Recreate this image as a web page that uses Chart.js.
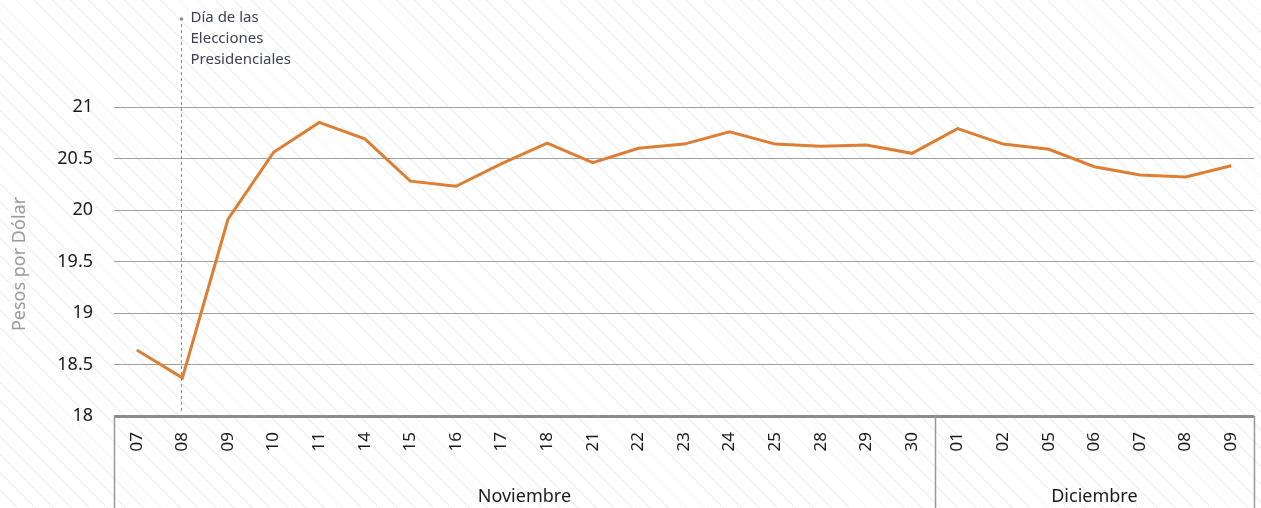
<!DOCTYPE html>
<html lang="es">
<head>
<meta charset="utf-8">
<title>Pesos por Dólar</title>
<script src="https://cdn.jsdelivr.net/npm/chart.js@4.4.1/dist/chart.umd.min.js"></script>
<style>
  html, body {
    margin: 0;
    padding: 0;
  }
  body {
    width: 1261px;
    height: 508px;
    overflow: hidden;
    background-color: #ffffff;
    background-image: repeating-linear-gradient(45deg, #ffffff 0px, #ffffff 11.5px, #f1f1f1 11.5px, #f1f1f1 12.8px);
  }
  canvas { display: block; }
</style>
</head>
<body>
<canvas id="tipoCambio" width="1261" height="508"></canvas>
<script>
// Datos
const dias = ['07', '08', '09', '10', '11', '14', '15', '16', '17', '18', '21', '22', '23', '24', '25', '28', '29', '30',
              '01', '02', '05', '06', '07', '08', '09'];
const pesosPorDolar = [18.64, 18.37, 19.91, 20.56, 20.85, 20.69, 20.28, 20.23, 20.45, 20.65, 20.46, 20.60, 20.64, 20.76,
                       20.64, 20.62, 20.63, 20.55, 20.79, 20.64, 20.59, 20.42, 20.34, 20.32, 20.43];
const meses = ['Noviembre', 'Diciembre'];
const diasPorMes = [18, 7];
const eventoIndice = 1;
const eventoTexto = ['Día de las', 'Elecciones', 'Presidenciales'];

const fuente = '"Noto Sans", "Open Sans", sans-serif';

// Anotación, separadores de meses y título del eje
const extras = {
  id: 'extras',
  beforeDatasetsDraw(chart) {
    const { ctx, chartArea, scales } = chart;
    const x = scales.x;
    const ex = Math.round(x.getPixelForValue(eventoIndice)) - 0.5;
    ctx.save();
    ctx.strokeStyle = '#8a8a8a';
    ctx.lineWidth = 1;
    ctx.setLineDash([3, 3]);
    ctx.beginPath();
    ctx.moveTo(ex, 24);
    ctx.lineTo(ex, chartArea.bottom - 2);
    ctx.stroke();
    ctx.setLineDash([]);
    ctx.fillStyle = '#8a8a8a';
    ctx.beginPath();
    ctx.arc(ex, 19, 1.8, 0, Math.PI * 2);
    ctx.fill();
    ctx.fillStyle = '#3d4154';
    ctx.font = '15px ' + fuente;
    ctx.textAlign = 'left';
    ctx.textBaseline = 'middle';
    eventoTexto.forEach((t, i) => ctx.fillText(t, ex + 9, 18 + i * 21));
    ctx.restore();
  },
  afterDraw(chart) {
    const { ctx, chartArea, scales } = chart;
    const x = scales.x;
    const h = chart.height;
    ctx.save();
    // bordes de los grupos de meses
    const bordes = [chartArea.left];
    let idx = 0;
    diasPorMes.forEach(n => {
      idx += n;
      if (idx < dias.length) {
        bordes.push((x.getPixelForValue(idx - 1) + x.getPixelForValue(idx)) / 2);
      } else {
        bordes.push(chartArea.right);
      }
    });
    ctx.strokeStyle = '#999999';
    ctx.lineWidth = 1.5;
    bordes.forEach(bx => {
      ctx.beginPath();
      ctx.moveTo(Math.round(bx) + 0.5, chartArea.bottom);
      ctx.lineTo(Math.round(bx) + 0.5, h);
      ctx.stroke();
    });
    ctx.fillStyle = '#1a1a1a';
    ctx.font = '18px ' + fuente;
    ctx.textAlign = 'center';
    ctx.textBaseline = 'middle';
    meses.forEach((m, i) => ctx.fillText(m, (bordes[i] + bordes[i + 1]) / 2, 497));
    // título del eje Y
    ctx.translate(20, 264);
    ctx.rotate(-Math.PI / 2);
    ctx.fillStyle = '#9a9a9a';
    ctx.font = '18px ' + fuente;
    ctx.fillText('Pesos por Dólar', 0, 0);
    ctx.restore();
  }
};

const ctx = document.getElementById('tipoCambio').getContext('2d');
const grafica = new Chart(ctx, {
  type: 'line',
  data: {
    labels: dias,
    datasets: [{
      label: 'Pesos por Dólar',
      data: pesosPorDolar,
      borderColor: '#dc7f34',
      borderWidth: 3,
      pointRadius: 0,
      tension: 0,
      fill: false
    }]
  },
  options: {
    responsive: false,
    animation: false,
    layout: { padding: { top: 107, right: 7, left: 0, bottom: 0 } },
    plugins: {
      legend: { display: false },
      tooltip: { enabled: false }
    },
    scales: {
      x: {
        offset: true,
        grid: { display: false },
        border: { display: false },
        ticks: {
          autoSkip: false,
          minRotation: 90,
          maxRotation: 90,
          padding: 8,
          color: '#1a1a1a',
          font: { family: fuente, size: 17 }
        },
        afterFit(scale) { scale.height = 92; }
      },
      y: {
        min: 18,
        max: 21,
        border: { display: false },
        grid: {
          drawTicks: false,
          color: ctx => ctx.tick.value === 18 ? '#8c8c8c' : '#a0a0a0',
          lineWidth: ctx => ctx.tick.value === 18 ? 3 : 1
        },
        ticks: {
          stepSize: 0.5,
          padding: 21,
          color: '#1a1a1a',
          font: { family: fuente, size: 18 },
          callback: value => String(value)
        },
        afterFit(scale) { scale.width = 114; }
      }
    }
  },
  plugins: [extras]
});
</script>
</body>
</html>
